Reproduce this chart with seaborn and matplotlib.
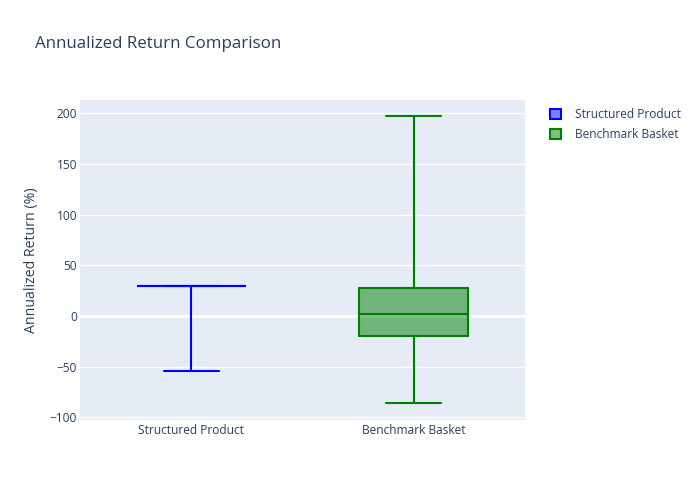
import pandas as pd
import matplotlib
matplotlib.use("Agg")
import matplotlib.pyplot as plt
import seaborn as sns
from matplotlib.patches import Patch

# Werte (Whisker = Min/Max)
products = ["Structured Product", "Benchmark Basket"]
structured_returns = [-54, 30, 30, 30, 30, 30]
benchmark_returns = [-86, -20, 2, 28, 197]
line_colors = ["#0000ff", "#008000"]
fill_colors = [(0, 0, 1, 0.5), (0, 0.5, 0, 0.5)]
y_ticks = [-100, -50, 0, 50, 100, 150, 200]

df = pd.DataFrame({
    "product": [products[0]] * len(structured_returns) + [products[1]] * len(benchmark_returns),
    "ret": structured_returns + benchmark_returns,
})

sns.set_theme(style="darkgrid")
plt.rcParams["font.family"] = ["Open Sans", "DejaVu Sans"]
text_color = "#2a3f5f"

fig = plt.figure(figsize=(7, 5), dpi=100)
ax = fig.add_axes([0.1143, 0.16, 0.6357, 0.64])
ax.set_facecolor("#e5ecf6")

sns.boxplot(
    data=df, x="product", y="ret", hue="product", order=products,
    hue_order=products, palette=line_colors, whis=(0, 100), width=0.49,
    linewidth=1.5, legend=False, ax=ax, dodge=False,
)

# Farben wie im Original setzen
for cont, lc, fc in zip(ax.containers, line_colors, fill_colors):
    for b in cont.boxes:
        b.set_facecolor(fc)
        b.set_edgecolor(lc)
        b.set_linewidth(1.5)
        b.set_zorder(3)
    for ln in list(cont.whiskers) + list(cont.caps) + list(cont.medians):
        ln.set_color(lc)
        ln.set_linewidth(1.5)
        ln.set_zorder(3)

ax.set_ylim(-102.5, 213)
ax.set_yticks(y_ticks)
ax.set_yticklabels([str(t).replace("-", "\u2212") for t in y_ticks])
ax.set_xlim(-0.5, 1.5)
ax.grid(axis="y", color="white", linewidth=1)
ax.grid(axis="x", visible=False)
ax.axhline(0, color="white", linewidth=2, zorder=1)
ax.set_axisbelow(True)
for s in ax.spines.values():
    s.set_visible(False)
ax.tick_params(axis="both", length=0, labelsize=8.6, colors=text_color)
ax.tick_params(axis="x", pad=3)
ax.tick_params(axis="y", pad=2)
ax.set_xlabel("")
ax.set_ylabel("Annualized Return (%)", fontsize=10.2, color=text_color, labelpad=8)

fig.text(0.05, 0.912, "Annualized Return Comparison", fontsize=12.2, color=text_color,
         va="center", ha="left")

handles = [Patch(facecolor=fc, edgecolor=lc, linewidth=1.5) for lc, fc in zip(line_colors, fill_colors)]
leg = fig.legend(handles, products, loc="upper left", bbox_to_anchor=(0.77, 0.805),
                 frameon=False, fontsize=8.6, handlelength=0.9, handleheight=0.9,
                 labelspacing=0.55, handletextpad=1.2)
for t in leg.get_texts():
    t.set_color(text_color)

fig.savefig("out.png", dpi=100)
